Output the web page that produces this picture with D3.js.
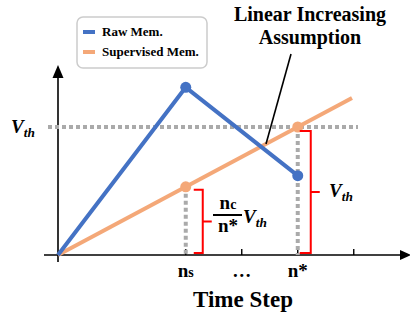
<!DOCTYPE html>
<html><head><meta charset="utf-8">
<script src="https://cdn.jsdelivr.net/npm/d3@7/dist/d3.min.js"></script>
<style>body{margin:0;background:#fff}svg{display:block}text{font-family:"Liberation Serif","Times New Roman",serif;font-weight:bold}</style>
</head><body><svg id="c" width="410" height="318"></svg>
<script>
// ---- data ----
const seriesNames = ["Raw Mem.", "Supervised Mem."];
const seriesColors = ["#4472C4", "#F4A878"];
const rawTimes = [0, 36.5, 68.5];
const rawValues = [0, 1.31, 0.62];
const supTimes = [0, 84];
const supValues = [0, 84 / 68.5];
const tickTimes = [36.5, 52.5, 68.5, 84.5];
const tickLabels = ["ns", "…", "n*", ""];
const nsTime = 36.5, nStarTime = 68.5;
const vth = 1;

const svg = d3.select("#c");
const x = d3.scaleLinear().domain([0, 100]).range([58, 408]);
const y = d3.scaleLinear().domain([0, 1.5]).range([255, 63]);
const supAt = t => t / nStarTime * vth;

// axes
svg.append("line").attr("x1", x(0)).attr("x2", x(0)).attr("y1", 262).attr("y2", 75).attr("stroke", "#000").attr("stroke-width", 1.6);
svg.append("path").attr("d", `M${x(0)-5.5},${78} L${x(0)},${65} L${x(0)+5.5},${78} Z`).attr("fill", "#000");
svg.append("line").attr("x1", 44).attr("x2", 402).attr("y1", y(0)).attr("y2", y(0)).attr("stroke", "#000").attr("stroke-width", 1.6);
svg.append("path").attr("d", `M${400},${y(0)-5} L${411},${y(0)} L${400},${y(0)+5} Z`).attr("fill", "#000");

// ticks
svg.selectAll(".tk").data(tickTimes).join("line")
  .attr("x1", d => x(d)).attr("x2", d => x(d)).attr("y1", y(0)).attr("y2", y(0) - 6)
  .attr("stroke", "#000").attr("stroke-width", 1.4);

// dotted guides
const dot = {stroke: "#aaa", "stroke-width": 4, "stroke-dasharray": "4,3"};
function dl(x1, y1, x2, y2) {
  const l = svg.append("line").attr("x1", x1).attr("y1", y1).attr("x2", x2).attr("y2", y2);
  Object.entries(dot).forEach(([k, v]) => l.attr(k, v));
}
dl(48, y(vth), 358, y(vth));
dl(x(nsTime), y(supAt(nsTime)), x(nsTime), y(0));
dl(x(nStarTime), y(vth), x(nStarTime), y(0));

// lines
const line = d3.line().x(d => x(d[0])).y(d => y(d[1]));
svg.append("path").datum(d3.zip(supTimes, supValues)).attr("d", line)
  .attr("fill", "none").attr("stroke", seriesColors[1]).attr("stroke-width", 4);
svg.append("path").datum(d3.zip(rawTimes, rawValues)).attr("d", line)
  .attr("fill", "none").attr("stroke", seriesColors[0]).attr("stroke-width", 4).attr("stroke-linejoin", "round");
// markers
svg.append("circle").attr("cx", x(rawTimes[1])).attr("cy", y(rawValues[1])).attr("r", 5.5).attr("fill", seriesColors[0]);
svg.append("circle").attr("cx", x(rawTimes[2])).attr("cy", y(rawValues[2])).attr("r", 5.5).attr("fill", seriesColors[0]);
svg.append("circle").attr("cx", x(nsTime)).attr("cy", y(supAt(nsTime))).attr("r", 5.5).attr("fill", seriesColors[1]);
svg.append("circle").attr("cx", x(nStarTime)).attr("cy", y(vth)).attr("r", 5.5).attr("fill", seriesColors[1]);

// red brackets
function bracket(xl, xr, y1, y2) {
  const ym = (y1 + y2) / 2;
  svg.append("path").attr("d", `M${xl},${y1} H${xr} V${y2} H${xl} M${xr},${ym} H${xr + 9}`)
    .attr("fill", "none").attr("stroke", "#f00").attr("stroke-width", 2);
}
bracket(x(nsTime) + 8, x(nsTime) + 17, y(supAt(nsTime)) + 3, y(0) - 2);
bracket(x(nStarTime) + 2, x(nStarTime) + 13, y(vth) + 4, y(0) - 2);

// Vth labels
function vthLabel(px, py, size) {
  const t = svg.append("text").attr("x", px).attr("y", py).style("font-style", "italic").style("font-size", size + "px");
  t.append("tspan").text("V");
  t.append("tspan").text("th").attr("dy", size * 0.22).style("font-size", (size * 0.7) + "px");
}
vthLabel(11, y(vth) + 6, 19);
vthLabel(329, 197, 19);
vthLabel(243, 223, 19);

// fraction
const fx = 228;
const nc = svg.append("text").attr("x", fx).attr("y", 209).attr("text-anchor", "middle").style("font-size", "19px");
nc.append("tspan").text("n"); nc.append("tspan").text("c").style("font-size", "14px");
svg.append("line").attr("x1", 213).attr("x2", 242).attr("y1", 215).attr("y2", 215).attr("stroke", "#000").attr("stroke-width", 2);
svg.append("text").attr("x", fx).attr("y", 232).attr("text-anchor", "middle").style("font-size", "19px").text("n*");

// tick labels
svg.selectAll(".tl").data(tickTimes.map((t, i) => [t, tickLabels[i]])).join("text")
  .attr("x", d => x(d[0])).attr("y", 277).attr("text-anchor", "middle").style("font-size", "19px")
  .each(function(d) {
    const t = d3.select(this);
    if (d[1] === "ns") { t.append("tspan").text("n"); t.append("tspan").text("s").style("font-size", "14px"); }
    else t.text(d[1]);
  });

// axis title
svg.append("text").attr("x", 243).attr("y", 307).attr("text-anchor", "middle").style("font-size", "23px").text("Time Step");

// annotation
svg.append("text").attr("x", 310).attr("y", 21).attr("text-anchor", "middle").style("font-size", "20px").text("Linear Increasing");
svg.append("text").attr("x", 310).attr("y", 44).attr("text-anchor", "middle").style("font-size", "20px").text("Assumption");
svg.append("line").attr("x1", 291).attr("y1", 54).attr("x2", 266).attr("y2", y(supAt(x.invert(266))))
  .attr("stroke", "#000").attr("stroke-width", 1.6);

// legend
svg.append("rect").attr("x", 77).attr("y", 17).attr("width", 130).attr("height", 51).attr("rx", 6)
  .attr("fill", "#fff").attr("stroke", "#ccc").attr("stroke-width", 1.5);
seriesNames.forEach((n, i) => {
  const ly = 32 + i * 20;
  svg.append("line").attr("x1", 83).attr("x2", 95).attr("y1", ly).attr("y2", ly).attr("stroke", seriesColors[i]).attr("stroke-width", 4);
  svg.append("text").attr("x", 102).attr("y", ly + 4).style("font-size", "13px").text(n);
});
</script></body></html>
